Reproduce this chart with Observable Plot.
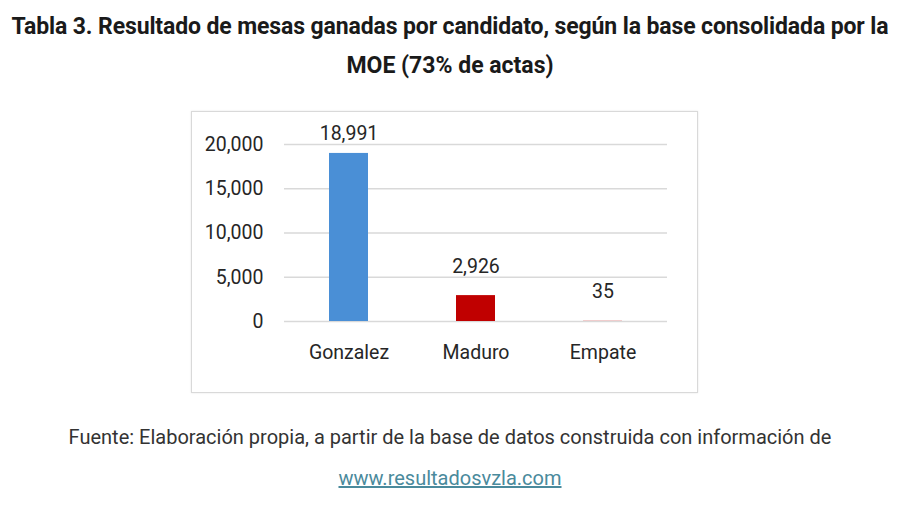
<!DOCTYPE html>
<html><head><meta charset="utf-8">
<script src="https://cdn.jsdelivr.net/npm/d3@7"></script>
<script src="https://cdn.jsdelivr.net/npm/@observablehq/plot@0.6"></script>
<style>
body{margin:0;background:#fff;width:900px;height:505px;position:relative;overflow:hidden;font-family:Roboto,"Liberation Sans",sans-serif;color:#262626}
.t{position:absolute;left:0;width:900px;text-align:center;font-weight:bold;font-size:23px;white-space:nowrap;color:#1a1a1a}
#t1{top:13px;letter-spacing:-0.12px}
#t2{top:52px}
#box{position:absolute;left:191px;top:111px;width:505px;height:280px;border:1px solid #d9d9d9;box-shadow:0 0 2px #e6e6e6}
.f{position:absolute;left:0;width:900px;text-align:center;font-size:20px;white-space:nowrap;color:#333}
#f1{top:425px}
#f2{top:466px;color:#4a8a9c;text-decoration:underline}
</style></head>
<body>
<div class="t" id="t1">Tabla 3. Resultado de mesas ganadas por candidato, según la base consolidada por la</div>
<div class="t" id="t2">MOE (73% de actas)</div>
<div id="box"></div>
<div class="f" id="f1">Fuente: Elaboración propia, a partir de la base de datos construida con información de</div>
<div class="f" id="f2">www.resultadosvzla.com</div>
<script>
const candidates = ["Gonzalez", "Maduro", "Empate"];
const mesas = [18991, 2926, 35];
const colors = ["#4a8fd6", "#c00000", "#e07070"];
const yTicks = [0, 5000, 10000, 15000, 20000];

const data = candidates.map((c, i) => ({c, v: mesas[i], col: colors[i]}));
const fmt = d3.format(",");

const chart = Plot.plot({
  width: 505, height: 280,
  marginLeft: 92, marginRight: 30, marginTop: 32, marginBottom: 71,
  style: {fontFamily: "Roboto, 'Liberation Sans', sans-serif", fontSize: "19.5px", color: "#262626", background: "transparent"},
  x: {domain: candidates, paddingInner: 0.69, paddingOuter: 0.345, label: null, tickSize: 0, tickPadding: 24},
  y: {domain: [0, 20000], ticks: yTicks, tickFormat: fmt, label: null, tickSize: 0, tickPadding: 21},
  marks: [
    Plot.gridY(yTicks, {stroke: "#d9d9d9", strokeOpacity: 1, strokeWidth: 1.5}),
    Plot.barY(data, {x: "c", y: "v", fill: "col"}),
    Plot.text(data.filter(d => d.c === "Gonzalez"), {x: "c", y: "v", text: d => fmt(d.v), dy: -20, fontSize: 19.5, fill: "#262626"}),
    Plot.text(data.filter(d => d.c !== "Gonzalez"), {x: "c", y: "v", text: d => fmt(d.v), dy: -29, fontSize: 19.5, fill: "#262626"})
  ]
});
document.getElementById("box").appendChild(chart);
</script>
</body></html>
